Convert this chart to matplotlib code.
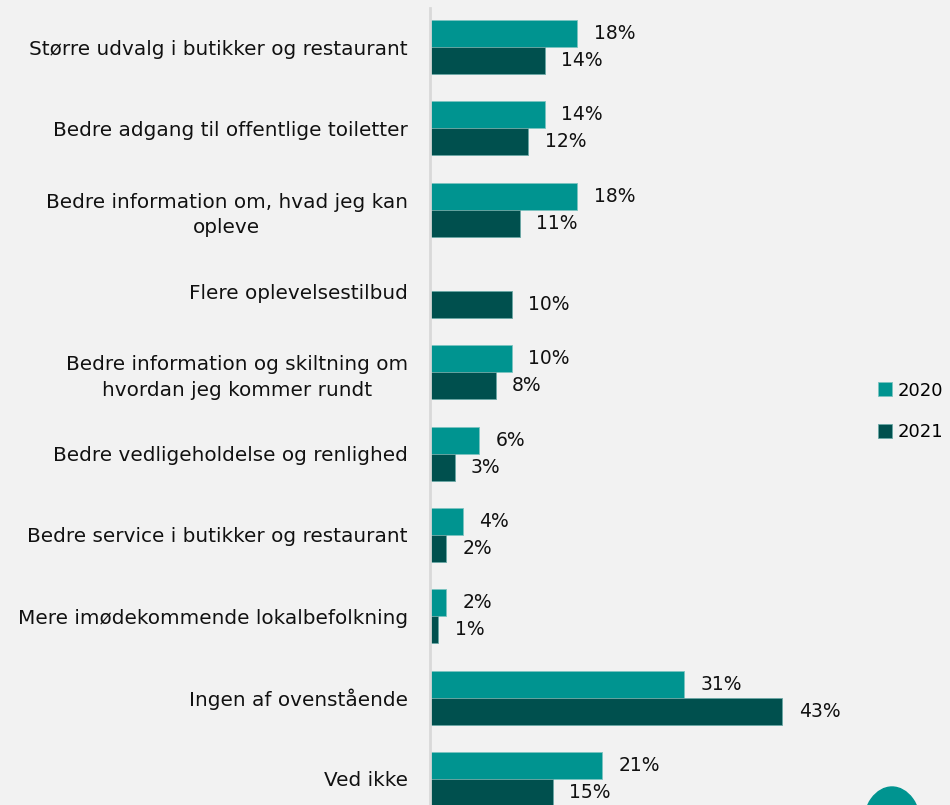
import numpy as np
import matplotlib
matplotlib.use("Agg")
import matplotlib.pyplot as plt
from matplotlib.patches import Ellipse

categories = [
    "Større udvalg i butikker og restaurant",
    "Bedre adgang til offentlige toiletter",
    "Bedre information om, hvad jeg kan\nopleve",
    "Flere oplevelsestilbud",
    "Bedre information og skiltning om\nhvordan jeg kommer rundt",
    "Bedre vedligeholdelse og renlighed",
    "Bedre service i butikker og restaurant",
    "Mere imødekommende lokalbefolkning",
    "Ingen af ovenstående",
    "Ved ikke",
]
v2020 = [18, 14, 18, None, 10, 6, 4, 2, 31, 21]
v2021 = [14, 12, 11, 10, 8, 3, 2, 1, 43, 15]

c2020 = "#009490"
c2021 = "#00504e"
bg = "#f2f2f2"

plt.rcParams['font.family'] = ['DejaVu Sans']

fig = plt.figure(figsize=(9.5, 8.05), dpi=100, facecolor=bg)
ax = fig.add_axes([430/950, 0, 430/950, 797/805])
ax.set_facecolor(bg)

y = np.arange(len(categories))
h = 0.333
w20 = [np.nan if v is None else v for v in v2020]
ax.barh(y - h/2, w20, height=h, color=c2020, edgecolor="#7cc4c0", linewidth=0.6, label="2020")
ax.barh(y + h/2, v2021, height=h, color=c2021, edgecolor="#6aa8a5", linewidth=0.6, label="2021")

fs = 14.4
vfs = 13.5
for i in range(len(categories)):
    if v2020[i] is not None:
        ax.text(v2020[i] + 2.0, y[i] - h/2, f"{v2020[i]}%", va="center", ha="left", fontsize=vfs, color="#111111")
    ax.text(v2021[i] + 2.0, y[i] + h/2, f"{v2021[i]}%", va="center", ha="left", fontsize=vfs, color="#111111")

ax.set_xlim(0, 52.5)
ax.set_ylim(9.32, -0.48)
ax.set_yticks(y)
ax.set_yticklabels(categories, fontsize=fs, color="#111111")
for t in ax.get_yticklabels():
    t.set_multialignment("center")
    t.set_linespacing(1.45)
ax.tick_params(axis="y", length=0, pad=16)
ax.set_xticks([])
for s in ["top", "right", "bottom"]:
    ax.spines[s].set_visible(False)
ax.spines["left"].set_color("#d9d9d9")
ax.spines["left"].set_linewidth(2)

fig.legend(loc="center left", bbox_to_anchor=(878/950, 0.489), frameon=False,
           fontsize=13, handlelength=0.8, handleheight=0.8, handletextpad=0.3,
           labelspacing=1.3, borderpad=0, borderaxespad=0)

# logo blob in the corner
fig.patches.append(Ellipse((892/950, -22/805), 58/950, 80/805, transform=fig.transFigure,
                           color=c2020, zorder=5))

fig.savefig("out.png", dpi=100, facecolor=bg)
